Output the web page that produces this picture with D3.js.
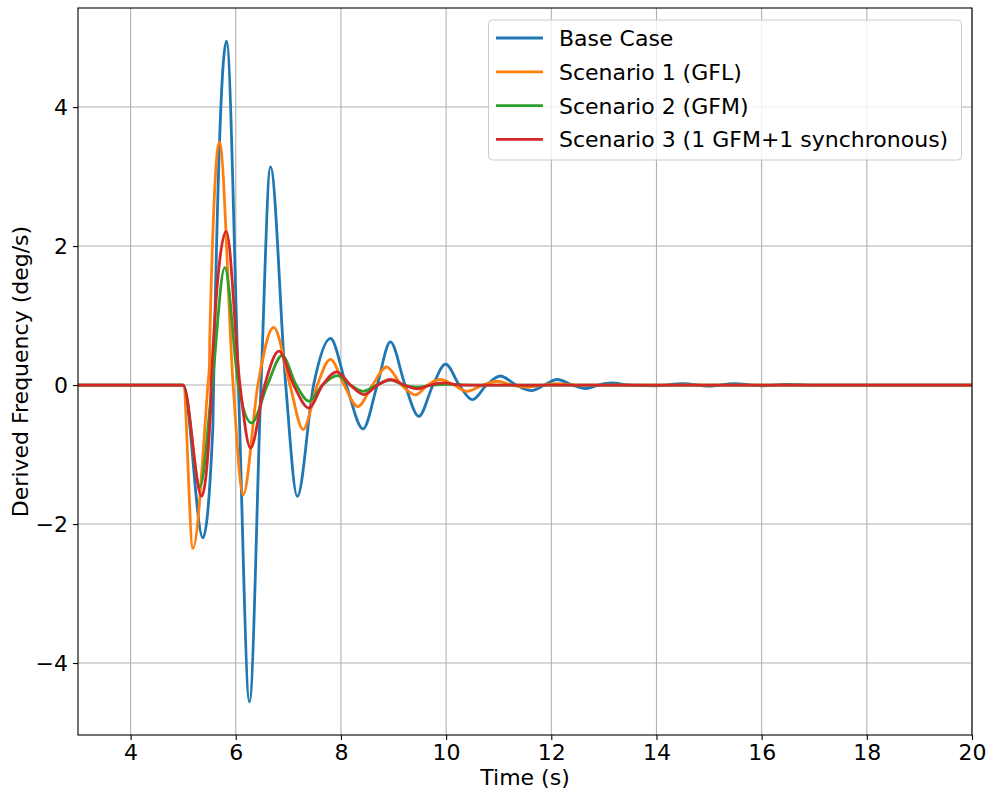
<html>
  <script src="https://d3js.org/d3.v7.min.js"></script>
  <body style="margin:0;background:white">
    <script>
      // series as [time, value] pairs (extrema and zero crossings)
      let baseCase = [[3,0],[5.0,0],[5.375,-2.2],[5.565,-0.6],[5.57,-0.35],[5.825,4.95],[6.05,0],[6.26,-4.56],[6.48,0],[6.66,3.14],[6.95,0],[7.17,-1.6],[7.48,0],[7.8,0.67],[8.1,0],[8.42,-0.63],[8.69,0],[8.94,0.62],[9.22,0],[9.48,-0.45],[9.75,0],[9.99,0.3],[10.25,0],[10.5,-0.21],[10.77,0],[11.03,0.13],[11.33,0],[11.63,-0.08],[11.87,0],[12.11,0.08],[12.4,0],[12.65,-0.05],[12.9,0],[13.13,0.03],[13.5,0],[14.0,-0.01],[14.5,0.02],[15.0,-0.015],[15.47,0.02],[16.0,-0.01],[16.45,0.01],[17,0],[20,0]];
      let scenario1 = [[3,0],[5.0,0],[5.185,-2.35],[5.47,0],[5.5,0.3],[5.505,0.65],[5.69,3.5],[5.95,0],[6.14,-1.58],[6.42,0],[6.72,0.83],[7.03,0],[7.28,-0.64],[7.55,0],[7.8,0.37],[8.06,0],[8.32,-0.31],[8.6,0],[8.87,0.26],[9.15,0],[9.42,-0.14],[9.65,0],[9.89,0.08],[10.15,0],[10.4,-0.09],[10.7,0],[10.97,0.055],[11.25,0],[11.55,-0.03],[11.85,0],[12.1,0.02],[12.5,0],[20,0]];
      let scenario2 = [[3,0],[5.0,0],[5.32,-1.46],[5.55,0],[5.79,1.69],[6.05,0],[6.3,-0.545],[6.6,0],[6.88,0.425],[7.15,0],[7.39,-0.23],[7.65,0],[7.93,0.137],[8.18,0],[8.42,-0.09],[8.68,0],[8.94,0.07],[9.2,0],[9.45,-0.03],[9.75,0],[10.0,0.01],[10.5,0],[20,0]];
      let scenario3 = [[3,0],[5.0,0],[5.35,-1.6],[5.525,-0.31],[5.53,0],[5.82,2.21],[6.08,0],[6.28,-0.905],[6.55,0],[6.82,0.487],[7.1,0],[7.39,-0.33],[7.65,0],[7.92,0.19],[8.18,0],[8.44,-0.137],[8.7,0],[8.94,0.08],[9.2,0],[9.45,-0.055],[9.7,0],[9.95,0.03],[10.3,0],[20,0]];
      let seriesNames = ["Base Case", "Scenario 1 (GFL)", "Scenario 2 (GFM)", "Scenario 3 (1 GFM+1 synchronous)"];
      let seriesColors = ["#1f77b4", "#ff7f0e", "#2ca02c", "#d62728"];
      let xTicks = [4, 6, 8, 10, 12, 14, 16, 18, 20];
      let yTicks = [-4, -2, 0, 2, 4];

      let allSeries = [baseCase, scenario1, scenario2, scenario3];
      let width = 989, height = 794;
      let margin = {top: 8, right: 17, bottom: 59, left: 78};
      let fontFamily = "'DejaVu Sans', sans-serif";
      let fontSize = 22;

      let svg = d3.select("body").append("svg")
                  .attr("width", width)
                  .attr("height", height)
                  .style("font-family", fontFamily);

      // y limits like matplotlib autoscale: data range plus 5% margins
      let allValues = allSeries.flat().map(p => p[1]);
      let yMin = d3.min(allValues), yMax = d3.max(allValues);
      let pad = (yMax - yMin) * 0.05;

      let x = d3.scaleLinear().domain([3, 20]).range([margin.left, width - margin.right]);
      let y = d3.scaleLinear().domain([yMin - pad, yMax + pad]).range([height - margin.bottom, margin.top]);

      let fmt = d => d < 0 ? "\u2212" + Math.abs(d) : String(d);

      // grid
      let grid = svg.append("g").attr("stroke", "#b0b0b0").attr("stroke-width", 1.1);
      xTicks.forEach(t => grid.append("line")
        .attr("x1", x(t)).attr("x2", x(t))
        .attr("y1", margin.top).attr("y2", height - margin.bottom));
      yTicks.forEach(t => grid.append("line")
        .attr("x1", margin.left).attr("x2", width - margin.right)
        .attr("y1", y(t)).attr("y2", y(t)));

      // lines
      let line = d3.line()
                   .x(d => x(d[0]))
                   .y(d => y(d[1]))
                   .curve(d3.curveMonotoneX);
      svg.append("defs").append("clipPath").attr("id", "clip")
         .append("rect")
         .attr("x", margin.left).attr("y", margin.top)
         .attr("width", width - margin.left - margin.right)
         .attr("height", height - margin.top - margin.bottom);
      allSeries.forEach((s, i) => {
        svg.append("path")
           .attr("d", line(s))
           .attr("fill", "none")
           .attr("stroke", seriesColors[i])
           .attr("stroke-width", 2.8)
           .attr("stroke-linejoin", "round")
           .attr("clip-path", "url(#clip)");
      });

      // axes
      let xAxis = svg.append("g")
         .attr("transform", `translate(0,${height - margin.bottom})`)
         .call(d3.axisBottom(x).tickValues(xTicks).tickFormat(fmt).tickSize(5).tickPadding(4).tickSizeOuter(0));
      let yAxis = svg.append("g")
         .attr("transform", `translate(${margin.left},0)`)
         .call(d3.axisLeft(y).tickValues(yTicks).tickFormat(fmt).tickSize(5).tickPadding(5).tickSizeOuter(0));
      [xAxis, yAxis].forEach(a => {
        a.selectAll("text").attr("font-size", fontSize).attr("font-family", fontFamily).attr("fill", "black");
        a.selectAll("line").attr("stroke", "black").attr("stroke-width", 1.1);
        a.select(".domain").remove();
      });

      // frame
      svg.append("rect")
         .attr("x", margin.left).attr("y", margin.top)
         .attr("width", width - margin.left - margin.right)
         .attr("height", height - margin.top - margin.bottom)
         .attr("fill", "none")
         .attr("stroke", "black")
         .attr("stroke-width", 1.1);

      // axis labels
      svg.append("text")
         .attr("x", (margin.left + width - margin.right) / 2)
         .attr("y", 785)
         .attr("text-anchor", "middle")
         .attr("font-size", fontSize)
         .text("Time (s)");
      svg.append("text")
         .attr("transform", `translate(28,${(margin.top + height - margin.bottom) / 2}) rotate(-90)`)
         .attr("text-anchor", "middle")
         .attr("font-size", fontSize)
         .text("Derived Frequency (deg/s)");

      // legend
      let legend = svg.append("g");
      legend.append("rect")
            .attr("x", 488.5).attr("y", 20)
            .attr("width", 473).attr("height", 140)
            .attr("rx", 4)
            .attr("fill", "white").attr("fill-opacity", 0.8)
            .attr("stroke", "#cccccc");
      seriesNames.forEach((name, i) => {
        let cy = 38 + i * 33.8;
        legend.append("line")
              .attr("x1", 496).attr("x2", 543)
              .attr("y1", cy).attr("y2", cy)
              .attr("stroke", seriesColors[i])
              .attr("stroke-width", 2.8);
        legend.append("text")
              .attr("x", 559).attr("y", cy + 8)
              .attr("font-size", fontSize)
              .text(name);
      });
    </script>
  </body>
</html>
